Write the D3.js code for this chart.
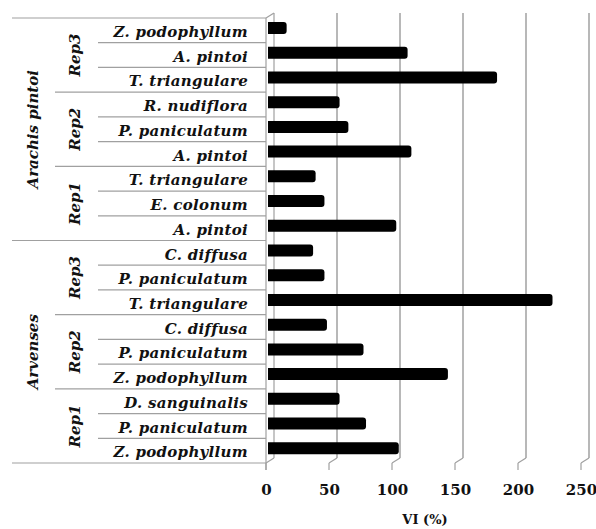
<!DOCTYPE html>
<html><head><meta charset="utf-8">
<script src="https://cdn.jsdelivr.net/npm/d3@7"></script>
<style>body{margin:0;background:#fff}svg{display:block}</style>
</head><body>
<script>
// Data (top to bottom)
const groups = ["Arachis pintoi", "Arvenses"];
const reps = ["Rep3", "Rep2", "Rep1"];
const species = [
  "Z. podophyllum","A. pintoi","T. triangulare",
  "R. nudiflora","P. paniculatum","A. pintoi",
  "T. triangulare","E. colonum","A. pintoi",
  "C. diffusa","P. paniculatum","T. triangulare",
  "C. diffusa","P. paniculatum","Z. podophyllum",
  "D. sanguinalis","P. paniculatum","Z. podophyllum"
];
const values = [14,110,181, 56,63,113, 37,44,101, 35,44,225, 46,75,142, 56,77,103];
const xTicks = [0,50,100,150,200,250];
const xLabel = "VI (%)";

const W=596,H=529;
const svg=d3.select("body").append("svg").attr("width",W).attr("height",H);
const plotTop=18,plotBottom=463;
const y=d3.scaleBand().domain(d3.range(species.length)).range([plotTop,plotBottom]);
const xFront=d3.scaleLinear().domain([0,250]).range([266,581]);
const xBack=d3.scaleLinear().domain([0,250]).range([274,589]);
const xBar=d3.scaleLinear().domain([0,250]).range([269,584]);
const dy=5; // depth offset
const grid="#a0a0a0";
const font="'DejaVu Serif','Liberation Serif',serif";

// back gridlines
xTicks.forEach(t=>{
  if(t>0) svg.append("line").attr("x1",xBack(t)).attr("x2",xBack(t)).attr("y1",plotTop-dy).attr("y2",plotBottom-dy)
    .attr("stroke",grid).attr("stroke-width",1.5);
  svg.append("line").attr("x1",xBack(t)).attr("x2",xFront(t)).attr("y1",plotBottom-dy).attr("y2",plotBottom)
    .attr("stroke",grid).attr("stroke-width",1.2);
  svg.append("line").attr("x1",xFront(t)).attr("x2",xFront(t)).attr("y1",plotBottom).attr("y2",plotBottom+7)
    .attr("stroke",grid).attr("stroke-width",1.2);
});
// left wall
svg.append("line").attr("x1",xBack(0)).attr("x2",xBack(0)).attr("y1",plotTop-dy).attr("y2",plotBottom-dy).attr("stroke",grid).attr("stroke-width",1.2);
svg.append("line").attr("x1",xFront(0)).attr("x2",xFront(0)).attr("y1",plotTop).attr("y2",plotBottom+7).attr("stroke",grid).attr("stroke-width",1.2);
svg.append("line").attr("x1",xFront(0)).attr("x2",xBack(0)).attr("y1",plotTop).attr("y2",plotTop-dy).attr("stroke",grid).attr("stroke-width",1.2);

// separators in label area
const bw=y.bandwidth();
for(let i=0;i<=species.length;i++){
  let x1=98;
  if(i%3===0) x1=55;
  if(i%9===0) x1=12;
  const yy=plotTop+i*bw;
  svg.append("line").attr("x1",x1).attr("x2",xFront(0)).attr("y1",yy).attr("y2",yy)
    .attr("stroke",grid).attr("stroke-width",1.2);
}

// bars
svg.selectAll("path.bar").data(values).join("path").attr("class","bar")
  .attr("d",(v,i)=>{
    const x0=xBar(0)-1, x1=xBar(v), y0=y(i)+4, h=12, r=3;
    return `M${x0},${y0}H${x1-r}Q${x1},${y0} ${x1},${y0+r}V${y0+h-r}Q${x1},${y0+h} ${x1-r},${y0+h}H${x0}Z`;
  }).attr("fill","#000");

// species labels
svg.selectAll("text.sp").data(species).join("text").attr("class","sp")
  .attr("x",248).attr("y",(d,i)=>y(i)+19).attr("text-anchor","end")
  .attr("font-family",font).attr("font-weight","bold").attr("font-style","italic")
  .attr("font-size",15).attr("letter-spacing",0.3).attr("fill","#111").text(d=>d);

// rep labels
groups.forEach((g,gi)=>{
  reps.forEach((r,ri)=>{
    const s=gi*9+ri*3;
    const cy=plotTop+(s+1.5)*bw;
    svg.append("text").attr("transform",`translate(80,${cy}) rotate(-90)`).attr("text-anchor","middle")
      .attr("font-family",font).attr("font-weight","bold").attr("font-style","italic")
      .attr("font-size",15).attr("fill","#111").text(r);
  });
  const cy=plotTop+(gi*9+4.5)*bw;
  svg.append("text").attr("transform",`translate(38,${cy}) rotate(-90)`).attr("text-anchor","middle")
    .attr("font-family",font).attr("font-weight","bold").attr("font-style","italic")
    .attr("font-size",15).attr("fill","#111").text(g);
});

// x tick labels
const ax=svg.append("g").attr("transform",`translate(0,${plotBottom+7})`)
  .call(d3.axisBottom(xFront).tickValues(xTicks).tickSize(0).tickPadding(14));
ax.select(".domain").remove();
ax.selectAll("text").attr("font-family",font).attr("font-weight","bold").attr("font-size",15).attr("fill","#111");

svg.append("text").attr("x",425).attr("y",524).attr("text-anchor","middle")
  .attr("font-family",font).attr("font-weight","bold").attr("font-size",13).attr("fill","#111").text(xLabel);
</script>
</body></html>
